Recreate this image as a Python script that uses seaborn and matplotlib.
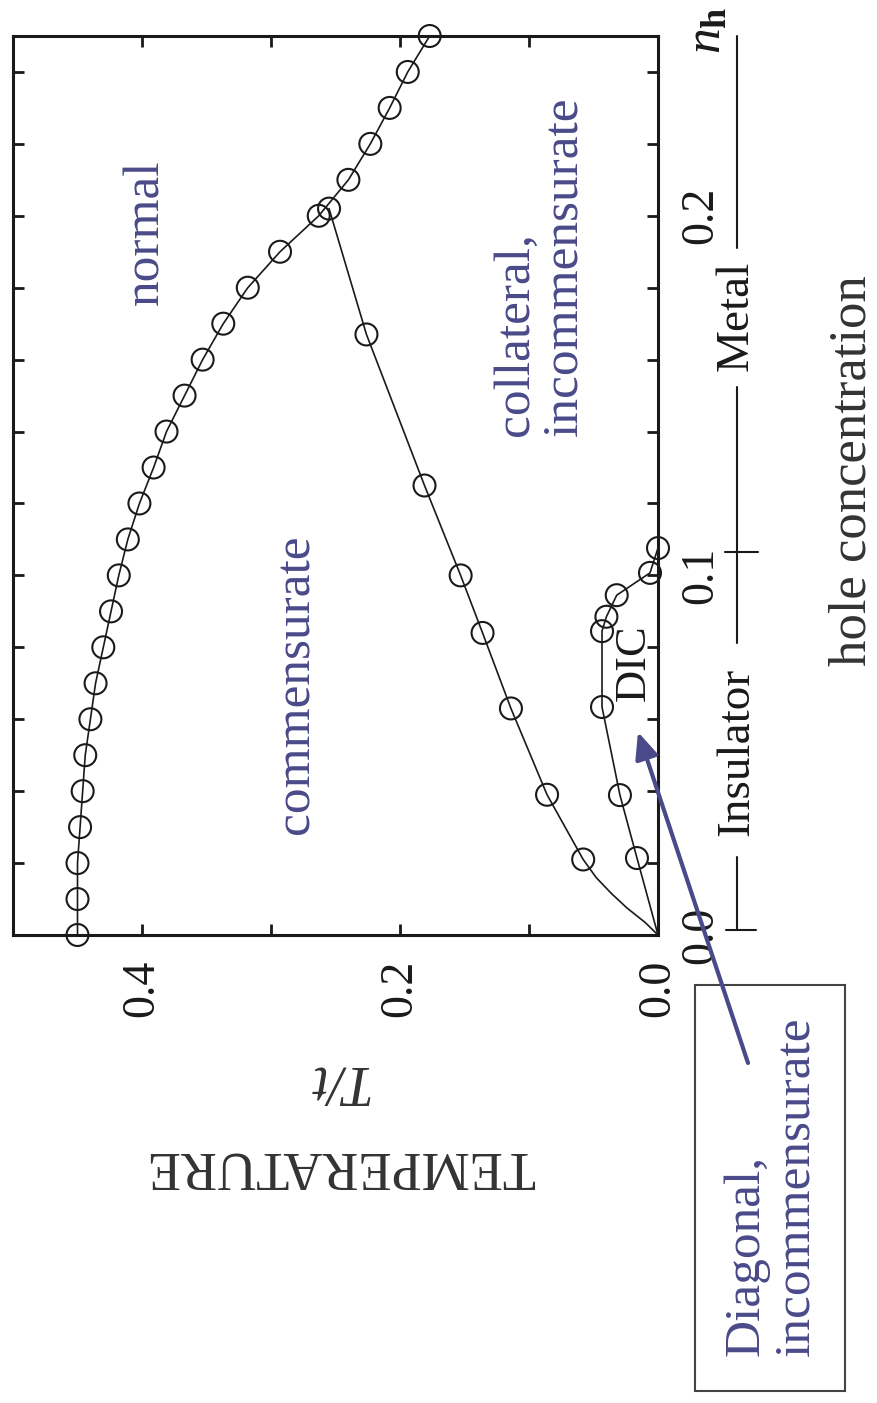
import numpy as np
import pandas as pd
import matplotlib
matplotlib.use("Agg")
import matplotlib.pyplot as plt
from matplotlib.lines import Line2D
from matplotlib.patches import Rectangle, FancyArrowPatch
import seaborn as sns

# ---- phase boundaries: hole concentration n_h vs transition temperature T/t ----
nh_normal = [0.00, 0.01, 0.02, 0.03, 0.04, 0.05, 0.06, 0.07, 0.08, 0.09, 0.10, 0.11, 0.12,
             0.13, 0.14, 0.15, 0.16, 0.17, 0.18, 0.19, 0.20, 0.21, 0.22, 0.23, 0.24, 0.25]
T_normal = [0.450, 0.450, 0.450, 0.448, 0.446, 0.444, 0.440, 0.436, 0.430, 0.424, 0.418, 0.411,
            0.402, 0.391, 0.381, 0.367, 0.353, 0.337, 0.318, 0.293, 0.263, 0.240, 0.223, 0.208,
            0.194, 0.177]

# commensurate / collateral boundary (computed points)
nh_comm = [0.202, 0.167, 0.125, 0.100, 0.084, 0.063, 0.039, 0.021]
T_comm = [0.255, 0.226, 0.181, 0.153, 0.136, 0.114, 0.086, 0.058]
# low-doping tail of the same boundary, drawn as a line only
nh_comm_tail = [0.016, 0.0115, 0.0075, 0.0035, 0.0]
T_comm_tail = [0.048, 0.036, 0.024, 0.010, 0.0]

# diagonal incommensurate (DIC) dome
nh_dic = [0.0214, 0.0389, 0.0634, 0.0845, 0.0885, 0.0945, 0.1007, 0.1076]
T_dic = [0.0163, 0.0295, 0.0434, 0.0434, 0.0400, 0.0320, 0.0062, 0.0]
nh_dic_origin = [0.0]
T_dic_origin = [0.0]

T_ticks = [0.0, 0.1, 0.2, 0.3, 0.4]
T_ticklabels = ["0.0", "", "0.2", "", "0.4"]
nh_ticks = [0.00, 0.02, 0.04, 0.06, 0.08, 0.10, 0.12, 0.14, 0.16, 0.18, 0.20, 0.22, 0.24]
nh_ticklabels = ["0.0", "", "", "", "", "0.1", "", "", "", "", "0.2", "", ""]

region_color = "#4a4a8a"
ink = "#1a1a1a"

sns.set_theme(style="white")
plt.rcParams["font.family"] = ["Liberation Serif", "DejaVu Serif"]
plt.rcParams["mathtext.fontset"] = "custom"
plt.rcParams["mathtext.rm"] = "Liberation Serif"
plt.rcParams["mathtext.it"] = "Liberation Serif:italic"
plt.rcParams["mathtext.bf"] = "Liberation Serif:bold"

W, H = 877, 1403
fig = plt.figure(figsize=(W / 100, H / 100), dpi=100)
fig.patch.set_facecolor("white")


def px(x, y):
    """pixel position -> figure fraction"""
    return x / W, 1 - y / H


# the diagram is laid out turned on its side: T/t runs right-to-left, n_h runs upward
ax = fig.add_axes([13 / W, 1 - 935 / H, (658 - 13) / W, (935 - 36) / H])
ax.set_facecolor("white")

line_kw = dict(color=ink, linewidth=1.2, sort=False, estimator=None, ax=ax, legend=False)
mark_kw = dict(marker="o", s=250, facecolors="none", edgecolors=ink, linewidths=1.5,
               ax=ax, clip_on=False, zorder=4, legend=False)

normal = pd.DataFrame({"T": T_normal, "nh": nh_normal})
sns.lineplot(data=normal, x="T", y="nh", **line_kw)
sns.scatterplot(data=normal, x="T", y="nh", **mark_kw)

comm_line = pd.DataFrame({"T": T_comm + T_comm_tail, "nh": nh_comm + nh_comm_tail})
sns.lineplot(data=comm_line, x="T", y="nh", **line_kw)
sns.scatterplot(x=T_comm, y=nh_comm, **mark_kw)

dic_line = pd.DataFrame({"T": T_dic_origin + T_dic, "nh": nh_dic_origin + nh_dic})
sns.lineplot(data=dic_line, x="T", y="nh", **line_kw)
sns.scatterplot(x=T_dic, y=nh_dic, **mark_kw)

ax.set_xlim(0.5, 0.0)
ax.set_ylim(0.0, 0.25)
ax.set_xlabel("")
ax.set_ylabel("")

ax.set_xticks(T_ticks)
ax.set_xticklabels(T_ticklabels)
ax.set_yticks(nh_ticks)
ax.set_yticklabels(nh_ticklabels)
ax.tick_params(axis="x", direction="in", length=8, width=2, top=True, bottom=True,
               labelbottom=True, labelsize=33, labelcolor=ink, labelrotation=90, pad=18,
               color=ink)
ax.tick_params(axis="y", direction="in", length=8, width=2, left=True, right=True,
               labelleft=False, labelright=True, labelsize=33, labelcolor=ink,
               labelrotation=90, pad=16, color=ink)
for lab in ax.get_yticklabels():
    lab.set_verticalalignment("center")
for s in ax.spines.values():
    s.set_linewidth(2.2)
    s.set_color(ink)
    s.set_visible(True)

# axis titles
fig.text(*px(340, 1166), "TEMPERATURE", rotation=180, ha="center", va="center",
         fontsize=39, color="#333333")
fig.text(*px(337, 1080), "T/t", rotation=180, ha="center", va="center",
         fontsize=40, style="italic", color="#333333")
fig.text(*px(852, 471), "hole concentration", rotation=90, ha="center", va="center",
         fontsize=38, color="#333333")
fig.text(*px(708, 30), r"$n_{\mathbf{h}}$", rotation=90, ha="center", va="center",
         fontsize=37, color=ink)

# phase labels
fig.text(*px(146, 232), "normal", rotation=90, ha="center", va="center",
         fontsize=37, color=region_color)
fig.text(*px(296, 684), "commensurate", rotation=90, ha="center", va="center",
         fontsize=37, color=region_color)
fig.text(*px(540, 266), "collateral,\nincommensurate", rotation=90, ha="center",
         va="center", multialignment="left", fontsize=37, color=region_color,
         linespacing=1.05)
fig.text(*px(634, 663), "DIC", rotation=90, ha="center", va="center",
         fontsize=32, color=ink)

# insulator / metal doping scale
scale_kw = dict(color=ink, linewidth=1.5, transform=fig.transFigure)
for y0, y1 in [(36, 248), (387, 643), (857, 930)]:
    fig.add_artist(Line2D([737 / W, 737 / W], [1 - y0 / H, 1 - y1 / H], **scale_kw))
fig.add_artist(Line2D([726 / W, 756 / W], [1 - 930 / H, 1 - 930 / H], **scale_kw))
fig.add_artist(Line2D([725 / W, 758 / W], [1 - 552 / H, 1 - 552 / H], **scale_kw))
fig.text(*px(737, 752), "Insulator", rotation=90, ha="center", va="center",
         fontsize=34, color=ink)
fig.text(*px(736, 316), "Metal", rotation=90, ha="center", va="center",
         fontsize=34, color=ink)

# boxed caption with pointer to the DIC region
fig.add_artist(Rectangle(px(695, 1391), (845 - 695) / W, (1391 - 985) / H,
                         transform=fig.transFigure, fill=False, edgecolor="#444444",
                         linewidth=1.5))
fig.text(*px(771, 1186), "Diagonal,\nincommensurate", rotation=90, ha="center",
         va="center", multialignment="left", fontsize=37, color=region_color,
         linespacing=1.1)
fig.add_artist(FancyArrowPatch(px(748, 1063), px(638, 732), transform=fig.transFigure,
                               arrowstyle="-|>,head_length=0.8,head_width=0.35",
                               mutation_scale=20, linewidth=3, color=region_color,
                               shrinkA=0, shrinkB=0))

fig.savefig("out.png", dpi=100, facecolor="white")
